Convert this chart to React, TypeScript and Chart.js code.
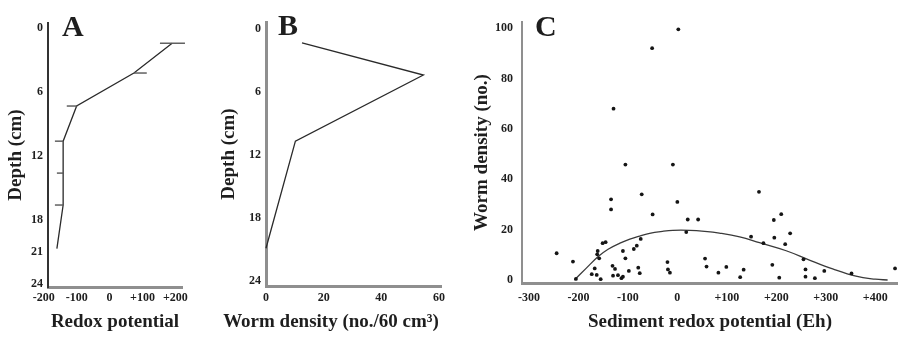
import React, { useEffect, useRef } from "react";
import { Chart, registerables } from "chart.js";

Chart.register(...registerables);

// ---------- Panel A: redox potential vs depth ----------
const A_DEPTH = [1.4, 4.2, 7.3, 10.6, 13.6, 16.6, 20.7];
const A_REDOX = [190, 74, -100, -141, -141, -141, -160];
const A_ERR_LOW = [153, 74, -130, -166, -160, -166, null];
const A_ERR_HIGH = [229, 113, -98, -141, -141, -141, null];
const A_DEPTH_TICKS = [0, 6, 12, 18, 21, 24];
const A_REDOX_TICKS = [-200, -100, 0, 100, 200];

// ---------- Panel B: worm density vs depth ----------
const B_DEPTH = [1.35, 4.4, 10.7, 20.9];
const B_DENSITY = [12.5, 54.6, 10.2, 0];
const B_DEPTH_TICKS = [0, 6, 12, 18, 24];
const B_DENSITY_TICKS = [0, 20, 40, 60];

// ---------- Panel C: worm density vs sediment redox potential ----------
const C_EH = [
  2, -51, -129, -105, -9, -134, -72, -134, -244, -211, -205, -151, -145, -161, -162,
  -158, -167, -173, -163, -155, -131, -126, -130, -120, -113, -110, -110, -105, -98, -88,
  -82, -74, -79, -76, -50, 0, 21, 42, 18, -20, -19, -15, 56, 59, 83,
  99, 127, 134, 149, 165, 174, 195, 210, 196, 228, 218, 192, 206, 255, 259,
  259, 278, 297, 352, 440,
];
const C_DENSITY = [
  99.5, 92, 68, 45.8, 45.8, 32, 34, 28, 10.6, 7.3, 0.4, 14.6, 15, 11.5, 10.2,
  8.6, 4.6, 2.3, 2, 0.3, 5.6, 4.4, 1.7, 1.9, 0.7, 1.3, 11.5, 8.6, 3.6, 12.3,
  13.6, 16.3, 4.9, 2.7, 26, 31, 24, 24, 19, 7.1, 4.2, 2.9, 8.5, 5.3, 2.9,
  5.2, 1.1, 4.1, 17.2, 35, 14.6, 23.8, 26.1, 16.8, 18.5, 14.2, 6, 0.9, 8.2, 4.2,
  1.3, 0.7, 3.6, 2.6, 4.6,
];
const C_FIT_EH = [-208, -185, -160, -140, -116, -96, -76, -56, -30, -9, 25, 55, 85, 126, 166, 220, 267, 314, 361, 400, 425];
const C_FIT_DENSITY = [0, 4.5, 9.3, 12.2, 14.6, 16.2, 17.4, 18.5, 19.3, 19.7, 19.7, 19.3, 18.6, 17.1, 14.8, 11.6, 7.9, 4.4, 1.5, 0.3, 0];
const C_EH_TICKS = [-300, -200, -100, 0, 100, 200, 300, 400];
const C_DENSITY_TICKS = [0, 20, 40, 60, 80, 100];

const SERIF = "'Liberation Serif', 'Times New Roman', serif";
const TICK_FONT = { family: SERIF, size: 12, weight: "bold" as const };
const TITLE_FONT = { family: SERIF, size: 19, weight: "bold" as const };
const INK = "#1e1e1e";
const GRAY_AXIS = "#8f8f8f";

const signed = (v: number) => (v > 0 ? "+" + v : String(v));

const panelTextPlugin = {
  id: "panelText",
  afterDraw(chart: any, _args: any, opts: any) {
    const ctx = chart.ctx;
    const area = chart.chartArea;
    for (const t of opts.items || []) {
      ctx.save();
      ctx.font = t.font;
      ctx.fillStyle = t.color || INK;
      ctx.textAlign = t.align || "left";
      ctx.textBaseline = t.baseline || "alphabetic";
      ctx.fillText(t.text, area.left + t.dx, t.y);
      ctx.restore();
    }
  },
};

const errorBarPlugin = {
  id: "errorBars",
  afterDatasetsDraw(chart: any, _args: any, opts: any) {
    if (!opts.low) return;
    const ctx = chart.ctx;
    const xs = chart.scales.x;
    const ys = chart.scales.y;
    ctx.save();
    ctx.strokeStyle = opts.color;
    ctx.lineWidth = opts.width;
    opts.depth.forEach((d: number, i: number) => {
      const lo = opts.low[i];
      const hi = opts.high[i];
      if (lo == null || hi == null) return;
      const py = ys.getPixelForValue(d);
      ctx.beginPath();
      ctx.moveTo(xs.getPixelForValue(lo), py);
      ctx.lineTo(xs.getPixelForValue(hi), py);
      ctx.stroke();
    });
    ctx.restore();
  },
};

function xAxis(o: any) {
  return {
    type: "linear",
    position: "bottom",
    min: o.min,
    max: o.max,
    afterBuildTicks: (s: any) => {
      s.ticks = o.ticks.map((v: number) => ({ value: v }));
    },
    afterFit: (s: any) => {
      s.height = o.height;
    },
    grid: { display: false, drawTicks: false },
    border: { display: true, color: o.borderColor, width: o.borderWidth },
    ticks: {
      font: TICK_FONT,
      color: INK,
      padding: o.tickPad,
      autoSkip: false,
      maxRotation: 0,
      minRotation: 0,
      callback: o.fmt,
    },
    title: o.title
      ? {
          display: true,
          text: o.title,
          font: TITLE_FONT,
          color: INK,
          padding: { top: 0, bottom: o.titlePad },
        }
      : { display: false },
  };
}

function yAxis(o: any) {
  return {
    type: "linear",
    position: "left",
    reverse: !!o.reverse,
    min: o.min,
    max: o.max,
    afterBuildTicks: (s: any) => {
      s.ticks = o.ticks.map((v: number) => ({ value: v }));
    },
    afterFit: (s: any) => {
      s.width = o.width;
    },
    grid: { display: false, drawTicks: false },
    border: { display: true, color: o.borderColor, width: o.borderWidth },
    ticks: {
      font: TICK_FONT,
      color: INK,
      padding: o.tickPad,
      autoSkip: false,
      callback: (v: any) => String(v),
    },
    title: {
      display: true,
      text: o.title,
      font: TITLE_FONT,
      color: INK,
      padding: { top: o.titlePad, bottom: 0 },
    },
  };
}

const baseOptions = {
  responsive: false,
  devicePixelRatio: 1,
  animation: false as const,
  events: [] as any[],
  layout: { autoPadding: false },
};

function usePanel(ref: React.RefObject<HTMLCanvasElement>, build: () => any) {
  useEffect(() => {
    if (!ref.current) return;
    const chart = new Chart(ref.current, build());
    return () => chart.destroy();
  }, []);
}

export default function App() {
  const aRef = useRef<HTMLCanvasElement>(null);
  const bRef = useRef<HTMLCanvasElement>(null);
  const cRef = useRef<HTMLCanvasElement>(null);

  usePanel(aRef, () => ({
    type: "scatter",
    data: {
      datasets: [
        {
          data: A_DEPTH.map((d, i) => ({ x: A_REDOX[i], y: d })),
          showLine: true,
          borderColor: "#2a2a2a",
          borderWidth: 1.3,
          pointRadius: 0,
          clip: false,
        },
      ],
    },
    options: {
      ...baseOptions,
      layout: { autoPadding: false, padding: { left: 0, top: 23, right: 18, bottom: 0 } },
      plugins: {
        legend: { display: false },
        tooltip: { enabled: false },
        errorBars: { depth: A_DEPTH, low: A_ERR_LOW, high: A_ERR_HIGH, color: "#555", width: 1.4 },
        panelText: {
          items: [{ text: "A", dx: 14, y: 36, font: `bold 30px ${SERIF}` }],
        },
      },
      scales: {
        x: xAxis({
          min: -187,
          max: 220,
          ticks: A_REDOX_TICKS,
          fmt: (v: any) => signed(Number(v)),
          height: 53,
          borderColor: GRAY_AXIS,
          borderWidth: 3,
          tickPad: 4,
          title: "Redox potential",
          titlePad: 7,
        }),
        y: yAxis({
          min: -0.5,
          max: 24.3,
          reverse: true,
          ticks: A_DEPTH_TICKS,
          width: 48,
          borderColor: "#333",
          borderWidth: 2,
          tickPad: 5,
          title: "Depth (cm)",
          titlePad: 5,
        }),
      },
    },
    plugins: [errorBarPlugin, panelTextPlugin],
  }));

  usePanel(bRef, () => ({
    type: "scatter",
    data: {
      datasets: [
        {
          data: B_DEPTH.map((d, i) => ({ x: B_DENSITY[i], y: d })),
          showLine: true,
          borderColor: "#2a2a2a",
          borderWidth: 1.3,
          pointRadius: 0,
          clip: false,
        },
      ],
    },
    options: {
      ...baseOptions,
      layout: { autoPadding: false, padding: { left: 0, top: 22, right: 4, bottom: 0 } },
      plugins: {
        legend: { display: false },
        tooltip: { enabled: false },
        panelText: {
          items: [
            { text: "B", dx: 12, y: 35, font: `bold 30px ${SERIF}` },
            {
              text: "Worm density (no./60 cm³)",
              dx: 65,
              y: 322,
              align: "center",
              baseline: "middle",
              font: `bold 19px ${SERIF}`,
            },
          ],
        },
      },
      scales: {
        x: xAxis({
          min: 0,
          max: 61,
          ticks: B_DENSITY_TICKS,
          fmt: (v: any) => String(v),
          height: 54,
          borderColor: GRAY_AXIS,
          borderWidth: 3,
          tickPad: 5,
          title: null,
          titlePad: 0,
        }),
        y: yAxis({
          min: -0.65,
          max: 24.5,
          reverse: true,
          ticks: B_DEPTH_TICKS,
          width: 66,
          borderColor: GRAY_AXIS,
          borderWidth: 3,
          tickPad: 5,
          title: "Depth (cm)",
          titlePad: 18,
        }),
      },
    },
    plugins: [panelTextPlugin],
  }));

  usePanel(cRef, () => ({
    type: "scatter",
    data: {
      datasets: [
        {
          data: C_EH.map((x, i) => ({ x, y: C_DENSITY[i] })),
          showLine: false,
          pointRadius: 1.9,
          pointBackgroundColor: "#151515",
          pointBorderWidth: 0,
          clip: false,
        },
        {
          data: C_FIT_EH.map((x, i) => ({ x, y: C_FIT_DENSITY[i] })),
          showLine: true,
          borderColor: "#3a3a3a",
          borderWidth: 1.3,
          pointRadius: 0,
          tension: 0.4,
          clip: false,
        },
      ],
    },
    options: {
      ...baseOptions,
      layout: { autoPadding: false, padding: { left: 0, top: 22, right: 0, bottom: 0 } },
      plugins: {
        legend: { display: false },
        tooltip: { enabled: false },
        panelText: {
          items: [{ text: "C", dx: 13, y: 36, font: `bold 30px ${SERIF}` }],
        },
      },
      scales: {
        x: xAxis({
          min: -314,
          max: 446,
          ticks: C_EH_TICKS,
          fmt: (v: any) => signed(Number(v)),
          height: 57,
          borderColor: GRAY_AXIS,
          borderWidth: 3,
          tickPad: 8,
          title: "Sediment redox potential (Eh)",
          titlePad: 7,
        }),
        y: yAxis({
          min: -1.2,
          max: 102.4,
          ticks: C_DENSITY_TICKS,
          width: 82,
          borderColor: GRAY_AXIS,
          borderWidth: 2,
          tickPad: 9,
          title: "Worm density (no.)",
          titlePad: 31,
        }),
      },
    },
    plugins: [panelTextPlugin],
  }));

  const canvasStyle = (left: number, width: number): React.CSSProperties => ({
    position: "absolute",
    left,
    top: 0,
    width,
    height: 340,
  });

  return (
    <div
      style={{
        position: "absolute",
        left: 0,
        top: 0,
        width: 898,
        height: 340,
        background: "#ffffff",
        overflow: "hidden",
      }}
    >
      <canvas ref={aRef} width={200} height={340} style={canvasStyle(0, 200)} />
      <canvas ref={bRef} width={250} height={340} style={canvasStyle(200, 250)} />
      <canvas ref={cRef} width={458} height={340} style={canvasStyle(440, 458)} />
    </div>
  );
}
